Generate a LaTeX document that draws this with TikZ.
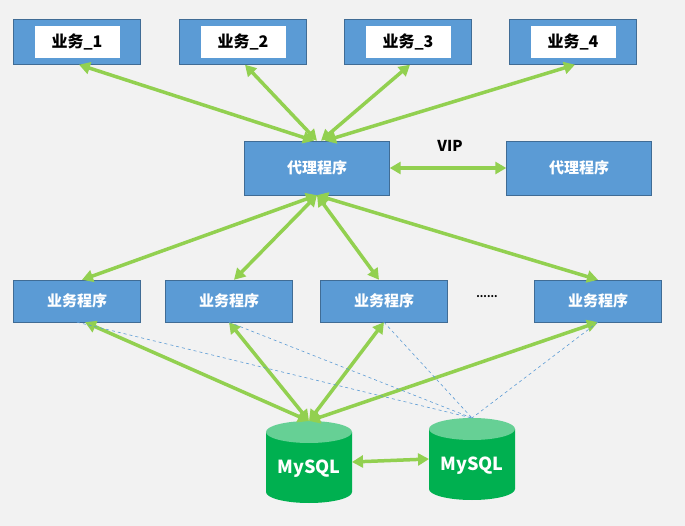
\documentclass[tikz,border=0pt]{standalone}
\usepackage{fontspec}
\setmainfont{Noto Sans CJK SC}
\usetikzlibrary{arrows.meta}
\definecolor{boxblue}{HTML}{5B9BD5}
\definecolor{linkgreen}{HTML}{92D050}
\definecolor{dbgreen}{HTML}{00B050}
\definecolor{dbtop}{HTML}{66D095}
\definecolor{bgray}{HTML}{F2F2F2}
\tikzset{
  blk/.style={draw=boxblue!70!black,fill=boxblue,minimum width=127,minimum height=45,font=\fontsize{15}{18}\selectfont\bfseries\color{white}},
  tag/.style={fill=white,minimum width=85,minimum height=32,font=\fontsize{16}{19}\selectfont\bfseries},
  link/.style={linkgreen,line width=3.5pt,{Triangle[length=11pt,width=12pt]}-{Triangle[length=11pt,width=12pt]}},
  hint/.style={boxblue,dashed,line width=0.6pt}
}
\begin{document}
\begin{tikzpicture}[x=1pt,y=-1pt]
				\fill[bgray] (0,0) rectangle (685,526);
				% top business boxes
				\foreach \i/\cx in {1/77,2/243,3/408,4/573}{
					\node[blk] (biz\i) at (\cx,42) {};
					\node[tag] at (biz\i) {业务\_\i};
				}
				% proxies
				\node[blk,minimum width=145,minimum height=54] (proxy) at (317,168) {代理程序};
				\node[blk,minimum width=145,minimum height=54] (proxyb) at (579,168) {代理程序};
				\node[font=\fontsize{15}{18}\selectfont\bfseries] (vip) at (450,146) {VIP};
				% application row
				\node[blk,minimum height=42] (app1) at (77,301) {业务程序};
				\node[blk,minimum height=42] (app2) at (229,301) {业务程序};
				\node[blk,minimum height=42] (app3) at (384,301) {业务程序};
				\node[blk,minimum height=42] (app4) at (598,301) {业务程序};
				\node[font=\bfseries] at (487,297) {......};
				% databases
				\foreach \n/\cx/\ty in {dba/309/432,dbb/472/429}{
					\fill[dbgreen] (\cx-43,\ty) -- (\cx-43,\ty+60) arc (180:0:43 and 11) -- (\cx+43,\ty) -- cycle;
					\fill[dbtop] (\cx,\ty) ellipse (43 and 11);
					\coordinate (\n) at (\cx,\ty-11);
					\coordinate (\n w) at (\cx-43,\ty+30);
					\coordinate (\n e) at (\cx+43,\ty+30);
					\node[font=\fontsize{18}{21}\selectfont\bfseries,text=white] (\n l) at (\cx,\ty+37) {MySQL};
				}
				% links
				\foreach \i/\dx in {1/-3,2/0,3/4,4/8}
					\draw[link] ([xshift=2]biz\i.south) -- ([xshift=\dx]proxy.north);
				\foreach \i/\dx in {1/5,2/5,3/-5,4/0}
					\draw[link] (proxy.south) -- ([xshift=\dx]app\i.north);
				\foreach \i/\dx in {1/8,2/0,3/0,4/0}
					\draw[link] ([xshift=\dx]app\i.south) -- (dba);
				\foreach \i in {1,2,3,4}
					\draw[hint] (app\i.south) -- (dbb);
				\draw[link] (proxy.east) -- (proxyb.west);
				\draw[link] (dbae) -- (dbbw);
\end{tikzpicture}
\end{document}
